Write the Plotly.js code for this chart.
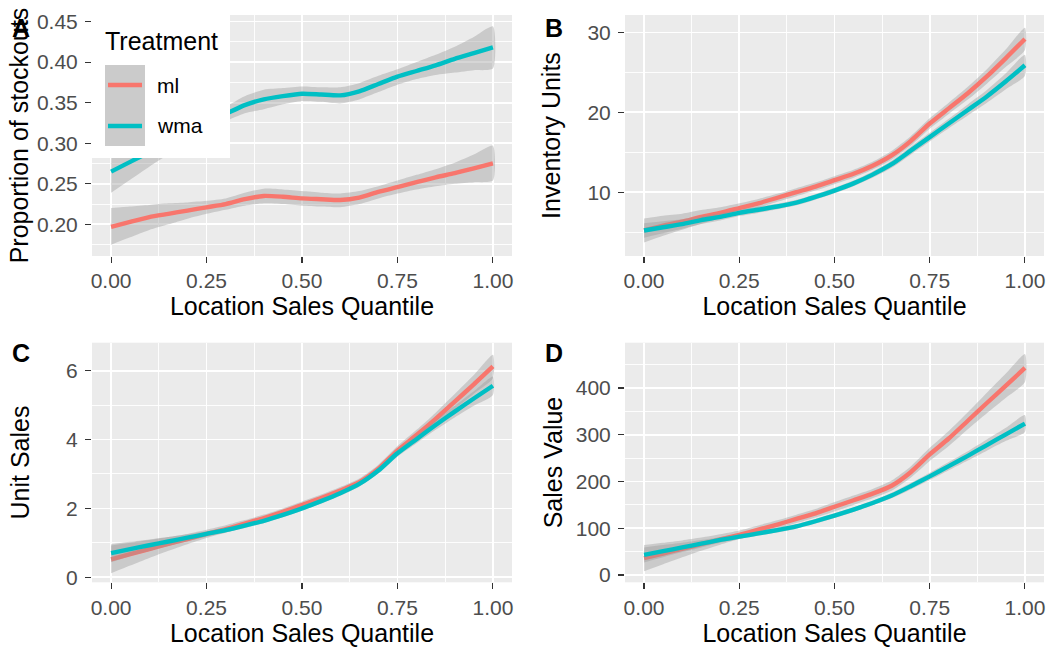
<!DOCTYPE html>
<html>
<head>
<meta charset="utf-8">
<script src="https://cdn.plot.ly/plotly-3.0.1.min.js"></script>
<style>html,body{margin:0;padding:0;background:#fff;}#chart{width:1062px;height:647px;}</style>
</head>
<body>
<div id="chart"></div>
<script>
// x grid (Location Sales Quantile)
const quantile = [0,0.05,0.1,0.15,0.2,0.25,0.3,0.35,0.4,0.45,0.5,0.55,0.6,0.65,0.7,0.75,0.8,0.85,0.9,0.95,1];
const treatments = ["ml", "wma"];

// Panel A: Proportion of stockouts
const stockML = [0.197,0.203,0.209,0.213,0.217,0.221,0.225,0.231,0.235,0.234,0.232,0.231,0.230,0.233,0.240,0.246,0.252,0.258,0.263,0.269,0.275];
const stockMLlo = [0.175,0.184,0.193,0.200,0.207,0.213,0.218,0.223,0.226,0.225,0.223,0.222,0.221,0.225,0.232,0.238,0.243,0.247,0.250,0.252,0.254];
const stockMLhi = [0.220,0.222,0.224,0.226,0.227,0.229,0.232,0.239,0.244,0.243,0.241,0.239,0.238,0.241,0.247,0.254,0.261,0.268,0.276,0.286,0.297];
const stockWMA = [0.265,0.277,0.289,0.301,0.313,0.325,0.336,0.347,0.354,0.358,0.361,0.360,0.359,0.364,0.373,0.382,0.389,0.396,0.404,0.411,0.418];
const stockWMAlo = [0.239,0.255,0.271,0.286,0.301,0.315,0.327,0.337,0.342,0.348,0.352,0.351,0.349,0.354,0.363,0.372,0.379,0.384,0.387,0.390,0.392];
const stockWMAhi = [0.291,0.299,0.307,0.316,0.325,0.334,0.345,0.358,0.366,0.368,0.370,0.369,0.369,0.374,0.383,0.391,0.400,0.409,0.419,0.431,0.444];

// Panel B: Inventory Units (fit and standard-error half width)
const invML = [5.2,5.8,6.3,6.9,7.4,8.0,8.6,9.3,10.0,10.7,11.5,12.3,13.3,14.6,16.4,18.6,20.5,22.4,24.5,26.8,29.2];
const invMLse = [1.5,1.25,1.0,0.85,0.7,0.6,0.55,0.5,0.5,0.5,0.5,0.5,0.5,0.55,0.6,0.65,0.7,0.8,0.9,1.1,1.4];
const invWMA = [5.2,5.6,6.0,6.5,6.9,7.4,7.8,8.2,8.7,9.4,10.2,11.1,12.2,13.5,15.2,16.9,18.6,20.3,22.0,23.9,25.9];
const invWMAse = [0.9,0.75,0.6,0.5,0.45,0.4,0.4,0.35,0.35,0.35,0.35,0.35,0.4,0.45,0.5,0.55,0.6,0.7,0.8,1.0,1.3];

// Panel C: Unit Sales
const unitML = [0.52,0.67,0.82,0.97,1.11,1.26,1.40,1.56,1.72,1.90,2.10,2.30,2.52,2.76,3.15,3.68,4.13,4.60,5.10,5.60,6.12];
const unitMLse = [0.4,0.33,0.26,0.2,0.15,0.12,0.11,0.1,0.1,0.1,0.1,0.1,0.1,0.11,0.12,0.13,0.15,0.18,0.22,0.27,0.34];
const unitWMA = [0.70,0.82,0.93,1.04,1.15,1.26,1.37,1.50,1.64,1.81,2.00,2.21,2.44,2.71,3.10,3.60,4.01,4.42,4.81,5.19,5.56];
const unitWMAse = [0.26,0.21,0.17,0.13,0.1,0.08,0.07,0.07,0.07,0.07,0.07,0.07,0.07,0.08,0.09,0.1,0.12,0.14,0.17,0.21,0.27];

// Panel D: Sales Value
const valML = [36,46,56,66,76,86,97,108,120,132,146,160,174,191,220,258,292,330,368,405,443];
const valMLse = [28,23,18,14,11,9,9,9,9,9,10,10,10,11,12,14,16,18,22,26,30];
const valWMA = [43,51,59,67,75,82,89,96,104,115,127,140,154,170,190,211,233,255,278,301,324];
const valWMAse = [16,13,10,8,6,5,5,5,5,5,5,5,5,6,7,8,9,10,12,14,18];

const xTicks = [0, 0.25, 0.5, 0.75, 1];
const xTickText = ["0.00", "0.25", "0.50", "0.75", "1.00"];

const COLORS = {ml: "#F8766D", wma: "#00BFC4"};
const RIBBON = "rgba(153,153,153,0.4)";

function band(fit, se, sign) { return fit.map((v, i) => v + sign * se[i]); }

function smoothTraces(xa, ya, name, fit, lo, hi) {
  return [
    {type: "scatter", mode: "lines", xaxis: xa, yaxis: ya, hoverinfo: "skip", showlegend: false,
     x: quantile.concat(quantile.slice().reverse()), y: lo.concat(hi.slice().reverse()),
     fill: "toself", fillcolor: RIBBON, line: {width: 0, shape: "spline", smoothing: 0.6}},
    {type: "scatter", mode: "lines", xaxis: xa, yaxis: ya, name: name, showlegend: false,
     x: quantile, y: fit, line: {color: COLORS[name], width: 4.4, shape: "spline", smoothing: 0.6}}
  ];
}

const data = [].concat(
  smoothTraces("x", "y", "ml", stockML, stockMLlo, stockMLhi),
  smoothTraces("x", "y", "wma", stockWMA, stockWMAlo, stockWMAhi),
  smoothTraces("x2", "y2", "ml", invML, band(invML, invMLse, -1), band(invML, invMLse, 1)),
  smoothTraces("x2", "y2", "wma", invWMA, band(invWMA, invWMAse, -1), band(invWMA, invWMAse, 1)),
  smoothTraces("x3", "y3", "ml", unitML, band(unitML, unitMLse, -1), band(unitML, unitMLse, 1)),
  smoothTraces("x3", "y3", "wma", unitWMA, band(unitWMA, unitWMAse, -1), band(unitWMA, unitWMAse, 1)),
  smoothTraces("x4", "y4", "ml", valML, band(valML, valMLse, -1), band(valML, valMLse, 1)),
  smoothTraces("x4", "y4", "wma", valWMA, band(valWMA, valWMAse, -1), band(valWMA, valWMAse, 1))
);

const W = 1062, H = 647;
const px = v => v / W, py = v => 1 - v / H;
const FONT = "Liberation Sans, Arial, Helvetica, sans-serif";

function xAxis(domain, anchor) {
  return {
    domain: domain, anchor: anchor, range: [-0.05, 1.05],
    tickvals: xTicks, ticktext: xTickText,
    ticks: "outside", ticklen: 6, tickwidth: 1.1, tickcolor: "#333333",
    tickfont: {size: 21, color: "#4D4D4D", family: FONT},
    showgrid: true, gridcolor: "#FFFFFF", gridwidth: 1.8,
    minor: {dtick: 0.125, tick0: 0, showgrid: true, gridcolor: "#FFFFFF", gridwidth: 0.9, ticks: ""},
    zeroline: false, showline: false, fixedrange: true,
    title: {text: "Location Sales Quantile", font: {size: 25, color: "#000000", family: FONT}, standoff: 4}
  };
}
function yAxis(domain, anchor, range, dtick, fmt, title, standoff) {
  return {
    domain: domain, anchor: anchor, range: range, dtick: dtick, tick0: 0, tickformat: fmt,
    ticks: "outside", ticklen: 6, tickwidth: 1.1, tickcolor: "#333333", ticklabelstandoff: 3,
    tickfont: {size: 21, color: "#4D4D4D", family: FONT},
    showgrid: true, gridcolor: "#FFFFFF", gridwidth: 1.8,
    minor: {dtick: dtick / 2, tick0: 0, showgrid: true, gridcolor: "#FFFFFF", gridwidth: 0.9, ticks: ""},
    zeroline: false, showline: false, fixedrange: true,
    title: {text: title, font: {size: 25, color: "#000000", family: FONT}, standoff: standoff}
  };
}

const colL = [px(92), px(512)], colR = [px(625), px(1044)];
const rowT = [py(256), py(15)], rowB = [py(582.3), py(342.7)];

const layout = {
  width: W, height: H, margin: {l: 0, r: 0, t: 0, b: 0},
  paper_bgcolor: "#FFFFFF", plot_bgcolor: "#EBEBEB", showlegend: false,
  font: {family: FONT},
  xaxis: xAxis(colL, "y"), yaxis: yAxis(rowT, "x", [0.161, 0.458], 0.05, ".2f", "Proportion of stockouts", 1),
  xaxis2: xAxis(colR, "y2"), yaxis2: yAxis(rowT, "x2", [2.0, 32.2], 10, "d", "Inventory Units", 19),
  xaxis3: xAxis(colL, "y3"), yaxis3: yAxis(rowB, "x3", [-0.145, 6.81], 2, "d", "Unit Sales", 29),
  xaxis4: xAxis(colR, "y4"), yaxis4: yAxis(rowB, "x4", [-15.6, 497], 100, "d", "Sales Value", 6),
  shapes: [
    // legend box
    {type: "rect", xref: "paper", yref: "paper", x0: px(92), x1: px(230), y0: py(158), y1: py(15), fillcolor: "#FFFFFF", line: {width: 0}, layer: "above"},
    {type: "rect", xref: "paper", yref: "paper", x0: px(105), x1: px(145), y0: py(146), y1: py(65), fillcolor: "#CBCBCB", line: {width: 0}, layer: "above"},
    {type: "line", xref: "paper", yref: "paper", x0: px(108), x1: px(142), y0: py(85), y1: py(85), line: {color: COLORS.ml, width: 4.4}, layer: "above"},
    {type: "line", xref: "paper", yref: "paper", x0: px(108), x1: px(142), y0: py(126), y1: py(126), line: {color: COLORS.wma, width: 4.4}, layer: "above"}
  ],
  annotations: [
    {text: "Treatment", xref: "paper", yref: "paper", x: px(103), y: py(41), xanchor: "left", yanchor: "middle", showarrow: false, font: {size: 25, color: "#000000", family: FONT}},
    {text: treatments[0], xref: "paper", yref: "paper", x: px(155), y: py(85), xanchor: "left", yanchor: "middle", showarrow: false, font: {size: 21, color: "#000000", family: FONT}},
    {text: treatments[1], xref: "paper", yref: "paper", x: px(155), y: py(126), xanchor: "left", yanchor: "middle", showarrow: false, font: {size: 21, color: "#000000", family: FONT}},
    {text: "<b>A</b>", xref: "paper", yref: "paper", x: px(10), y: py(28), xanchor: "left", yanchor: "middle", showarrow: false, font: {size: 25, color: "#000000", family: FONT}},
    {text: "<b>B</b>", xref: "paper", yref: "paper", x: px(543), y: py(28), xanchor: "left", yanchor: "middle", showarrow: false, font: {size: 25, color: "#000000", family: FONT}},
    {text: "<b>C</b>", xref: "paper", yref: "paper", x: px(10), y: py(353), xanchor: "left", yanchor: "middle", showarrow: false, font: {size: 25, color: "#000000", family: FONT}},
    {text: "<b>D</b>", xref: "paper", yref: "paper", x: px(543), y: py(353), xanchor: "left", yanchor: "middle", showarrow: false, font: {size: 25, color: "#000000", family: FONT}}
  ]
};

Plotly.newPlot("chart", data, layout, {displayModeBar: false, staticPlot: true});
</script>
</body>
</html>
